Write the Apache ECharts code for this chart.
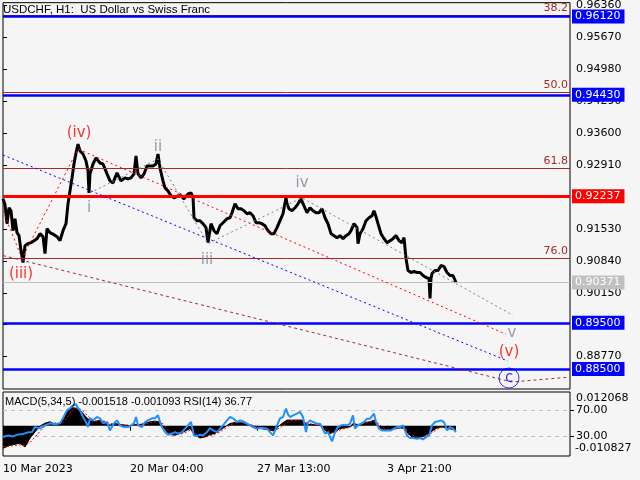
<!DOCTYPE html>
<html><head><meta charset="utf-8">
<script src="https://cdn.jsdelivr.net/npm/echarts@6/dist/echarts.min.js"></script>
<style>html,body{margin:0;padding:0;background:#f5f5f5}#c{width:640px;height:480px}</style>
</head><body><div id="c"></div>
<script>
// ---------- DATA ----------
const titleText = 'USDCHF, H1:  US Dollar vs Swiss Franc';
const dateBars = [0, 127, 254, 384];
const dateLabels = ['10 Mar 2023', '20 Mar 04:00', '27 Mar 13:00', '3 Apr 21:00'];
const priceTicks = [0.88770, 0.89460, 0.90150, 0.90840, 0.91530, 0.92220, 0.92910, 0.93600, 0.94290, 0.94980, 0.95670, 0.96360];

const priceBars = [0,2,4,6,8,10,12,14,16,18, 20,22,25,28,31,34,37,40,42,44, 47,51,54,57,60,63,65,67,69,71,
 73,75,77,80,83,85,86,87,90,93, 97,100,104,107,110,114,118,122,125,128, 131,133,135,138,141,144,147,150,153,155,
 157,160,162,165,168,171,175,178,181,185, 188,190,191,194,197,200,203,205,208,211, 214,217,220,224,227,229,232,235,238,241,
 244,247,250,253,256,259,262,265,268,271, 274,277,280,283,284,286,289,292,295,298, 301,304,307,310,313,316,319,322,325,328,
 331,334,337,340,343,346,348,351,354,355, 357,360,363,366,369,371,373,375,378,381, 384,387,390,393,396,399,401,403,405,408,
 411,414,417,420,423,426,427,428,429,432, 435,438,441,444,447,450,453];
const priceValues = [0.92181,0.92052,0.91643,0.91987,0.91923,0.91492,0.91751,0.91449,0.91385,0.91062,
 0.90804,0.91169,0.91213,0.91234,0.91277,0.91320,0.91428,0.91363,0.90997,0.91535,
 0.91449,0.91406,0.91363,0.91277,0.91492,0.91643,0.92073,0.92353,0.92633,0.92934,
 0.93171,0.93365,0.93214,0.93150,0.92999,0.92784,0.92310,0.92719,0.92934,0.93064,
 0.92956,0.92934,0.92719,0.92569,0.92525,0.92741,0.92569,0.92633,0.92612,0.92633,
 0.92719,0.93107,0.92719,0.92633,0.92719,0.92891,0.92891,0.92891,0.92934,0.93150,
 0.92848,0.92569,0.92418,0.92353,0.92246,0.92203,0.92246,0.92246,0.92181,0.92289,
 0.92310,0.92224,0.91772,0.91708,0.91708,0.91643,0.91557,0.91234,0.91643,0.91492,
 0.91428,0.91600,0.91665,0.91751,0.91772,0.91880,0.92073,0.91966,0.91966,0.91923,
 0.91858,0.91880,0.91815,0.91665,0.91665,0.91643,0.91600,0.91492,0.91428,0.91428,
 0.91557,0.91708,0.91858,0.92203,0.92073,0.91966,0.91923,0.91987,0.92073,0.92181,
 0.92030,0.91880,0.91987,0.91923,0.91880,0.91880,0.91966,0.91772,0.91643,0.91428,
 0.91385,0.91342,0.91385,0.91320,0.91385,0.91428,0.91492,0.91643,0.91557,0.91213,
 0.91428,0.91535,0.91708,0.91772,0.91815,0.91923,0.91794,0.91643,0.91428,0.91320,
 0.91234,0.91277,0.91320,0.91385,0.91277,0.91234,0.91342,0.90890,0.90631,0.90588,
 0.90610,0.90588,0.90588,0.90524,0.90481,0.90459,0.90029,0.90459,0.90567,0.90631,
 0.90631,0.90739,0.90717,0.90588,0.90524,0.90524,0.90371];

// horizontal levels
const levelValues = [0.96120, 0.94430, 0.92237, 0.90371, 0.89500, 0.88500];
const levelKinds  = ['support', 'support', 'pivot', 'last', 'support', 'support'];
const fibValues = [0.96140, 0.94480, 0.92842, 0.90896];
const fibLabels = ['38.2', '50.0', '61.8', '76.0'];

// wave trend lines
const blueTrendBars = [0, 505];
const blueTrendValues = [0.93128, 0.88673];
const redWaveBars = [0, 19, 75, 503];
const redWaveValues = [0.91923, 0.90890, 0.93257, 0.89254];
const brownTrendBars = [0, 509, 567];
const brownTrendValues = [0.90954, 0.88221, 0.88328];
const grayWaveBars = [87, 155, 205, 299, 510];
const grayWaveValues = [0.92310, 0.93042, 0.91213, 0.92203, 0.89663];

// wave labels
const waveNames  = ['(iv)', '(iii)', 'i', 'ii', 'iii', 'iv', 'v', '(v)'];
const waveBars   = [76, 18, 86, 155, 204, 299, 509, 506];
const waveValues = [0.93602, 0.90545, 0.91987, 0.93300, 0.90847, 0.92525, 0.89275, 0.88866];
const circleName = 'c';
const circleBar = 506;
const circleValue = 0.88307;

// MACD(5,34,5)
const macdRange = [-0.010827, 0.012068];
const macdBars = [0,7,17,22,27,32,37,42,47,52, 57,60,64,67,70,74,77,80,84,87, 92,97,102,107,112,117,122,127,132,137,
 142,147,152,157,160,164,167,172,177,182, 187,192,197,202,207,212,217,222,227,232, 237,242,247,252,257,262,267,272,275,279,
 284,289,294,299,304,309,314,317,320,324, 327,332,337,342,347,350,354,357,362,367, 371,374,377,382,387,392,397,402,405,409,
 414,419,424,429,434,439,444,449,453];
const macdValues = [-0.00806,-0.00698,-0.00626,-0.00759,-0.00446,-0.00220,-0.00015,0.00093,0.00139,0.00057,
 0.00093,0.00272,0.00499,0.00621,0.00643,0.00621,0.00560,0.00441,0.00272,0.00201,
 0.00139,0.00201,0.00118,0.00021,0.00082,0.00046,0.00021,-0.00004,0.00046,0.00046,
 0.00082,0.00139,0.00165,0.00139,-0.00040,-0.00220,-0.00314,-0.00339,-0.00278,-0.00195,
 -0.00098,-0.00339,-0.00436,-0.00400,-0.00314,-0.00278,-0.00159,-0.00040,0.00082,0.00118,
 0.00118,0.00082,0.00021,-0.00040,-0.00098,-0.00123,-0.00159,-0.00195,-0.00040,0.00082,
 0.00201,0.00201,0.00201,0.00201,0.00046,0.00046,0.00021,0.00021,-0.00098,-0.00220,
 -0.00278,-0.00220,-0.00098,-0.00076,-0.00040,0.00082,0.00046,0.00046,0.00118,0.00139,
 0.00201,0.00082,-0.00076,-0.00159,-0.00159,-0.00098,-0.00076,-0.00098,-0.00278,-0.00400,
 -0.00436,-0.00400,-0.00314,-0.00195,-0.00076,-0.00040,-0.00098,-0.00123,-0.001518];
const signalValues = [-0.0075,-0.0073,-0.0068,-0.0070,-0.0060,-0.0040,-0.0020,-0.0002,0.0009,0.0010,
 0.0008,0.0012,0.0030,0.0045,0.0058,0.0063,0.0060,0.0052,0.0038,0.0028,
 0.0018,0.0017,0.0016,0.0008,0.0006,0.0005,0.0004,0.0001,0.0002,0.0004,
 0.0006,0.0010,0.0014,0.0015,0.0006,-0.0010,-0.0022,-0.0032,-0.0031,-0.0025,
 -0.0016,-0.0025,-0.0038,-0.0041,-0.0036,-0.0030,-0.0022,-0.0010,0.0002,0.0010,
 0.0012,0.0010,0.0005,-0.0001,-0.0007,-0.0011,-0.0014,-0.0018,-0.0012,-0.0002,
 0.0012,0.0018,0.0020,0.0020,0.0010,0.0006,0.0003,0.0002,-0.0005,-0.0015,
 -0.0023,-0.0024,-0.0015,-0.0009,-0.0006,0.0002,0.0004,0.0005,0.0009,0.0012,
 0.0017,0.0013,0.0002,-0.0011,-0.0015,-0.0012,-0.0009,-0.0009,-0.0019,-0.0032,
 -0.0041,-0.0041,-0.0035,-0.0025,-0.0012,-0.0006,-0.0008,-0.0010,-0.001093];

// RSI(14)
const rsiTicks = [30, 70];
const rsiBars = [0,5,10,15,20,25,29,32,37,42, 47,52,57,60,64,67,70,73,75,77, 80,83,85,87,90,94,97,100,104,107,
 109,111,114,117,121,125,128,131,133,135, 139,142,145,149,152,155,158,162,165,169, 172,175,179,182,185,188,191,194,197,200,
 204,207,210,214,217,220,224,227,230,234, 237,240,244,247,250,254,257,260,264,267, 270,272,274,277,280,283,285,287,290,294,
 297,300,303,305,307,310,314,317,319,322, 325,329,332,335,338,341,344,347,350,351, 352,355,358,361,364,367,371,373,376,379,
 382,385,388,391,394,397,400,402,404,407, 410,414,417,420,423,426,429,432,435,438, 441,444,447,450,453];
const rsiValues = [29.2,31.5,30.0,33.1,33.8,36.2,36.6,44.3,42.3,46.9,
 50.0,48.5,50.0,57.7,70.0,73.1,77.7,79.2,73.1,70.0,
 59.7,52.0,44.3,57.7,54.6,59.7,57.7,50.0,52.0,39.2,
 36.6,50.0,54.6,46.9,44.3,44.3,46.9,50.0,59.7,46.9,
 44.3,52.0,54.6,57.7,57.7,62.3,46.9,36.6,32.6,34.2,
 36.6,34.2,36.6,41.8,46.9,52.0,31.5,30.5,32.6,31.5,
 36.6,42.8,39.2,36.6,41.8,46.9,54.6,59.7,57.7,52.0,
 54.6,53.1,49.5,46.9,44.3,41.8,42.8,42.8,41.8,36.6,
 31.5,28.9,46.9,57.7,59.7,72.6,63.8,59.7,62.3,64.9,
 67.4,59.7,36.6,51.5,54.6,52.0,49.5,49.5,44.3,34.2,
 36.6,22.3,36.6,44.3,46.9,48.0,46.9,49.5,62.3,64.9,
 41.8,46.9,49.5,52.0,57.2,57.2,64.9,52.0,41.8,39.2,
 39.2,39.2,39.2,41.8,44.3,44.3,46.9,44.3,31.5,27.4,
 27.4,26.5,27.4,25.4,28.9,31.5,46.9,52.0,53.1,54.6,
 52.0,39.2,44.3,41.8,36.77];

// ---------- CHART ----------
const FONT = 'DejaVu Sans';
const pair = (xs, ys) => xs.map((x, i) => [x, ys[i]]);
const levelStyle = {
  support: {color: '#0000ff', width: 2.5, box: '#0000ff'},
  pivot:   {color: '#ff0000', width: 3, box: '#ff0000'},
  last:    {color: '#c0c0c0', width: 1, box: '#c0c0c0'}
};
const waveColor = n => n === 'c' ? '#0000ff' : (n.charAt(0) === '(' ? '#ff0000' : '#778899');

const levelLines = levelValues.map((v, i) => {
  const s = levelStyle[levelKinds[i]];
  return {
    yAxis: v,
    lineStyle: {color: s.color, width: s.width, type: 'solid'},
    label: {show: true, position: 'end', distance: 2, formatter: v.toFixed(5),
      color: '#ffffff', backgroundColor: s.box, padding: [2, 4, 1, 3],
      fontFamily: FONT, fontSize: 11}
  };
});
const fibLines = fibValues.map((v, i) => ({
  yAxis: v,
  lineStyle: {color: '#a52a2a', width: 1, type: 'solid'},
  label: {show: true, position: 'insideEndTop', distance: 2, formatter: fibLabels[i],
    color: '#a52a2a', fontFamily: FONT, fontSize: 11}
}));

const trend = (bars, vals, color, dash) => ({
  type: 'line', xAxisIndex: 0, yAxisIndex: 0, z: 6, silent: true,
  data: pair(bars, vals), symbol: 'none',
  lineStyle: {color, width: 1, type: dash}
});

const last = a => a[a.length - 1];
const headerText = 'MACD(5,34,5) ' + last(macdValues).toFixed(6) + ' ' + last(signalValues).toFixed(6) +
  ' RSI(14) ' + last(rsiValues).toFixed(2);

const option = {
  backgroundColor: '#f5f5f5',
  animation: false,
  grid: [
    {left: 3, right: 70, top: 1, height: 388, show: true, borderColor: '#000', borderWidth: 1},
    {left: 3, right: 70, top: 392, height: 64, show: true, borderColor: '#000', borderWidth: 1}
  ],
  xAxis: [
    {type: 'value', gridIndex: 0, min: 0, max: 567, show: false},
    {type: 'value', gridIndex: 1, min: 0, max: 567,
      axisLine: {show: false}, splitLine: {show: false},
      axisTick: {show: true, customValues: dateBars, length: 5, lineStyle: {color: '#000'}},
      axisLabel: {customValues: dateBars, formatter: v => dateLabels[dateBars.indexOf(v)],
        align: 'left', margin: 8, color: '#000', fontFamily: FONT, fontSize: 11}}
  ],
  yAxis: [
    {type: 'value', gridIndex: 0, position: 'right', min: 0.88070, max: 0.96421,
      axisLine: {show: false}, splitLine: {show: false},
      axisTick: {show: true, customValues: priceTicks, length: 4, lineStyle: {color: '#000'}},
      axisLabel: {customValues: priceTicks, formatter: v => v.toFixed(5), margin: 6,
        color: '#000', fontFamily: FONT, fontSize: 11}},
    {type: 'value', gridIndex: 1, position: 'right', min: macdRange[0], max: macdRange[1], show: false},
    {type: 'value', gridIndex: 1, position: 'right', min: 0, max: 98,
      axisLine: {show: false}, splitLine: {show: false},
      axisTick: {show: true, customValues: rsiTicks, length: 4, lineStyle: {color: '#000'}},
      axisLabel: {customValues: rsiTicks, formatter: v => v.toFixed(2), margin: 6,
        color: '#000', fontFamily: FONT, fontSize: 11}}
  ],
  graphic: [
    {type: 'text', x: 3, y: 10, z: 0, style: {text: titleText, fill: '#000',
      font: '11.5px "Liberation Sans"', verticalAlign: 'middle'}},
    {type: 'text', x: 5, y: 402, z: 10, style: {text: headerText, fill: '#000',
      font: '11px "Liberation Sans"', verticalAlign: 'middle'}},
    {type: 'text', x: 576, y: 398, style: {text: macdRange[1].toFixed(6), fill: '#000',
      font: '11px "DejaVu Sans"', verticalAlign: 'middle'}},
    {type: 'text', x: 575, y: 448.5, style: {text: macdRange[0].toFixed(6), fill: '#000',
      font: '11px "DejaVu Sans"', verticalAlign: 'middle'}}
  ],
  series: [
    {type: 'line', name: 'price', xAxisIndex: 0, yAxisIndex: 0, z: 2,
      data: pair(priceBars, priceValues), symbol: 'none',
      lineStyle: {color: '#000', width: 3}},
    {type: 'line', name: 'levels', xAxisIndex: 0, yAxisIndex: 0, z: 4, data: [],
      markLine: {silent: true, precision: 5, symbol: ['none', 'none'], z: 4, data: fibLines.concat(levelLines)}},
    trend(brownTrendBars, brownTrendValues, '#a52a2a', [3, 3]),
    trend(blueTrendBars, blueTrendValues, '#0000ff', [2, 3]),
    trend(redWaveBars, redWaveValues, '#ff0000', [2, 3]),
    trend(grayWaveBars, grayWaveValues, '#808080', [2, 3]),
    {type: 'scatter', xAxisIndex: 0, yAxisIndex: 0, z: 8, silent: true, symbolSize: 1,
      itemStyle: {color: 'rgba(0,0,0,0)'},
      data: waveNames.map((n, i) => ({value: [waveBars[i], waveValues[i]], name: n,
        label: {show: true, position: 'inside', formatter: n, color: waveColor(n),
          fontFamily: FONT, fontSize: 15}}))},
    {type: 'scatter', xAxisIndex: 0, yAxisIndex: 0, z: 8, silent: true, symbol: 'circle', symbolSize: 20,
      itemStyle: {color: 'rgba(0,0,0,0)', borderColor: '#0000ff', borderWidth: 1},
      data: [{value: [circleBar, circleValue], name: circleName,
        label: {show: true, position: 'inside', formatter: circleName, color: waveColor(circleName),
          fontFamily: FONT, fontSize: 15, padding: [0, 0, 3, 0]}}]},
    {type: 'line', name: 'MACD', xAxisIndex: 1, yAxisIndex: 1, z: 2,
      data: pair(macdBars, macdValues), symbol: 'none',
      lineStyle: {color: '#000', width: 1}, areaStyle: {color: '#000', opacity: 1}},
    {type: 'line', name: 'Signal', xAxisIndex: 1, yAxisIndex: 1, z: 3,
      data: pair(macdBars, signalValues), symbol: 'none',
      lineStyle: {color: '#ff0000', width: 1, type: [2, 2]}},
    {type: 'line', name: 'RSI', xAxisIndex: 1, yAxisIndex: 2, z: 4,
      data: pair(rsiBars, rsiValues), symbol: 'none',
      lineStyle: {color: '#1e90ff', width: 2},
      markLine: {silent: true, symbol: ['none', 'none'], z: 1,
        lineStyle: {color: '#c0c0c0', width: 1, type: [4, 4]}, label: {show: false},
        data: rsiTicks.map(v => ({yAxis: v}))}}
  ]
};
const chart = echarts.init(document.getElementById('c'), null, {renderer: 'canvas', width: 640, height: 480});
chart.setOption(option);
</script>
</body></html>
